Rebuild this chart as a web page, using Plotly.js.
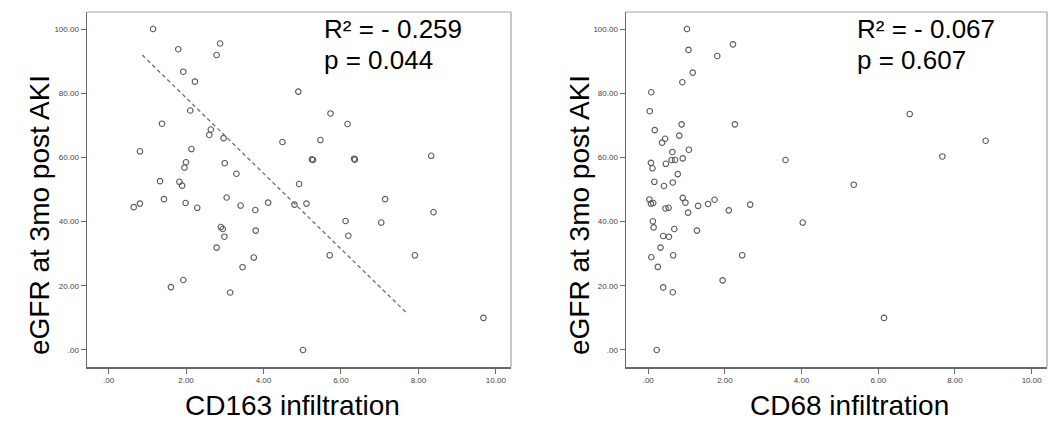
<!DOCTYPE html>
<html>
<head>
<meta charset="utf-8">
<script src="https://cdn.plot.ly/plotly-3.0.1.min.js"></script>
<style>html,body{margin:0;padding:0;background:#fff;}#chart{width:1051px;height:426px;}</style>
</head>
<body>
<div id="chart"></div>
<script>
// CD163 panel
var cd163X = [1.15,1.80,2.88,2.79,1.93,2.23,4.90,2.11,1.38,2.64,2.60,2.97,4.49,0.81,2.14,2.00,1.96,3.00,3.30,5.73,6.17,5.47,5.25,5.28,6.34,6.36,8.33,1.33,1.83,1.90,4.92,1.43,0.65,0.81,1.99,2.29,3.05,3.41,3.79,4.12,4.80,2.90,2.95,2.99,3.80,2.79,3.75,3.46,1.93,1.61,3.14,5.11,7.14,8.39,6.12,7.04,6.19,5.71,7.91,9.68,5.02];
var cd163Y = [100.0,93.7,95.5,91.9,86.7,83.6,80.5,74.6,70.5,68.7,67.0,66.0,64.8,61.9,62.6,58.5,56.8,58.2,54.9,73.7,70.4,65.4,59.4,59.2,59.6,59.3,60.5,52.6,52.4,51.2,51.7,47.0,44.5,45.6,45.8,44.3,47.5,45.0,43.6,45.9,45.3,38.3,37.7,35.3,37.2,31.9,28.8,25.8,21.8,19.6,17.9,45.6,47.0,42.9,40.2,39.7,35.6,29.5,29.5,10.0,0.0];
var cd163FitX = [0.87, 7.68];
var cd163FitY = [91.9, 11.7];

// CD68 panel
var cd68X = [1.01,1.05,2.21,1.80,1.16,0.89,0.08,0.04,0.87,2.26,0.17,0.81,0.44,0.36,1.06,0.63,0.07,0.11,0.46,0.61,0.70,0.90,3.58,0.77,6.82,8.80,7.67,0.16,0.41,0.64,0.03,0.07,0.13,0.45,0.53,0.90,0.97,1.04,1.30,1.56,1.73,2.10,2.66,4.03,0.12,0.14,0.39,0.54,0.68,1.27,0.32,0.08,0.65,2.45,0.25,1.94,0.39,0.64,5.36,6.15,0.22];
var cd68Y = [100.0,93.5,95.2,91.6,86.4,83.4,80.3,74.4,70.3,70.3,68.5,66.8,65.8,64.6,62.4,61.7,58.3,56.6,58.0,59.2,59.2,59.7,59.2,54.8,73.5,65.2,60.3,52.4,51.1,52.2,46.9,45.6,45.8,44.1,44.3,47.4,45.9,42.8,44.9,45.5,46.8,43.5,45.3,39.7,40.1,38.2,35.5,35.3,37.7,37.2,31.9,28.9,29.5,29.5,25.9,21.7,19.5,18.0,51.5,10.0,0.0];

var xTickVals = [0,2,4,6,8,10];
var xTickText = ['.00','2.00','4.00','6.00','8.00','10.00'];
var yTickVals = [0,20,40,60,80,100];
var yTickText = ['.00','20.00','40.00','60.00','80.00','100.00'];

var yTitle = 'eGFR at 3mo post AKI';
var xTitleLeft = 'CD163 infiltration';
var xTitleRight = 'CD68 infiltration';
var statsLeft = ['R\u00b2 = - 0.259', 'p = 0.044'];
var statsRight = ['R\u00b2 = - 0.067', 'p = 0.607'];

var W = 1051, H = 426;
function px(x){return x/W;}
function py(y){return 1 - y/H;}

var marker = {symbol:'circle-open', size:5.5, color:'#5a5a5a', line:{width:1.1, color:'#5a5a5a'}};

var traces = [
  {x:cd163X, y:cd163Y, type:'scatter', mode:'markers', marker:marker, xaxis:'x', yaxis:'y', hoverinfo:'skip'},
  {x:cd163FitX, y:cd163FitY, type:'scatter', mode:'lines', line:{color:'#707070', width:1.3, dash:'4px,3px'}, xaxis:'x', yaxis:'y', hoverinfo:'skip'},
  {x:cd68X, y:cd68Y, type:'scatter', mode:'markers', marker:marker, xaxis:'x2', yaxis:'y2', hoverinfo:'skip'}
];

var tickFont = {family:'Liberation Sans, Arial, sans-serif', size:8, color:'#444'};
function xa(domain, range, anchor){
  return {domain:domain, range:range, anchor:anchor, tickvals:xTickVals, ticktext:xTickText,
    showgrid:false, zeroline:false, showline:true, linecolor:'#6a6a6a', linewidth:1.5,
    ticks:'outside', ticklen:5, tickcolor:'#6a6a6a', tickwidth:1, tickfont:tickFont, fixedrange:true};
}
function ya(domain, range, anchor){
  return {domain:domain, range:range, anchor:anchor, tickvals:yTickVals, ticktext:yTickText,
    showgrid:false, zeroline:false, showline:true, linecolor:'#6a6a6a', linewidth:1.5,
    ticks:'outside', ticklen:5, tickcolor:'#6a6a6a', tickwidth:1, tickfont:tickFont, fixedrange:true};
}

var yDom = [1-367/H, 1-12/H];
var yRange = [-5.3, 105.3];

var bigFont = {family:'Liberation Sans, Arial, sans-serif', size:28, color:'#000'};
var statFont = {family:'Liberation Sans, Arial, sans-serif', size:26, color:'#000'};

var annotations = [
  {text:statsLeft[0], xref:'paper', yref:'paper', x:px(322), y:py(29.3), xanchor:'left', yanchor:'middle', showarrow:false, font:statFont},
  {text:statsLeft[1], xref:'paper', yref:'paper', x:px(322), y:py(60.3), xanchor:'left', yanchor:'middle', showarrow:false, font:statFont},
  {text:statsRight[0], xref:'paper', yref:'paper', x:px(855), y:py(29.3), xanchor:'left', yanchor:'middle', showarrow:false, font:statFont},
  {text:statsRight[1], xref:'paper', yref:'paper', x:px(855), y:py(60.3), xanchor:'left', yanchor:'middle', showarrow:false, font:statFont},
  {text:yTitle, xref:'paper', yref:'paper', x:px(40), y:py(215), xanchor:'center', yanchor:'middle', textangle:-90, showarrow:false, font:bigFont},
  {text:yTitle, xref:'paper', yref:'paper', x:px(580), y:py(215), xanchor:'center', yanchor:'middle', textangle:-90, showarrow:false, font:bigFont},
  {text:xTitleLeft, xref:'paper', yref:'paper', x:px(292), y:py(405), xanchor:'center', yanchor:'middle', showarrow:false, font:bigFont},
  {text:xTitleRight, xref:'paper', yref:'paper', x:px(849), y:py(405), xanchor:'center', yanchor:'middle', showarrow:false, font:bigFont}
];

var frameColor = '#a0a0a0';
var shapes = [
  {type:'line', xref:'x domain', yref:'y domain', x0:0, x1:1, y0:1, y1:1, line:{color:frameColor, width:1.2}},
  {type:'line', xref:'x domain', yref:'y domain', x0:1, x1:1, y0:0, y1:1, line:{color:frameColor, width:1.2}},
  {type:'line', xref:'x2 domain', yref:'y2 domain', x0:0, x1:1, y0:1, y1:1, line:{color:frameColor, width:1.2}},
  {type:'line', xref:'x2 domain', yref:'y2 domain', x0:1, x1:1, y0:0, y1:1, line:{color:frameColor, width:1.2}}
];

var layout = {
  width:W, height:H, margin:{l:0, r:0, t:0, b:0}, showlegend:false,
  paper_bgcolor:'#fff', plot_bgcolor:'#fff',
  xaxis: xa([87/W, 511/W], [-0.556, 10.39], 'y'),
  yaxis: ya(yDom, yRange, 'x'),
  xaxis2: xa([626/W, 1047/W], [-0.58, 10.4], 'y2'),
  yaxis2: ya(yDom, yRange, 'x2'),
  annotations:annotations, shapes:shapes
};

Plotly.newPlot('chart', traces, layout, {displayModeBar:false, staticPlot:true});
</script>
</body>
</html>
